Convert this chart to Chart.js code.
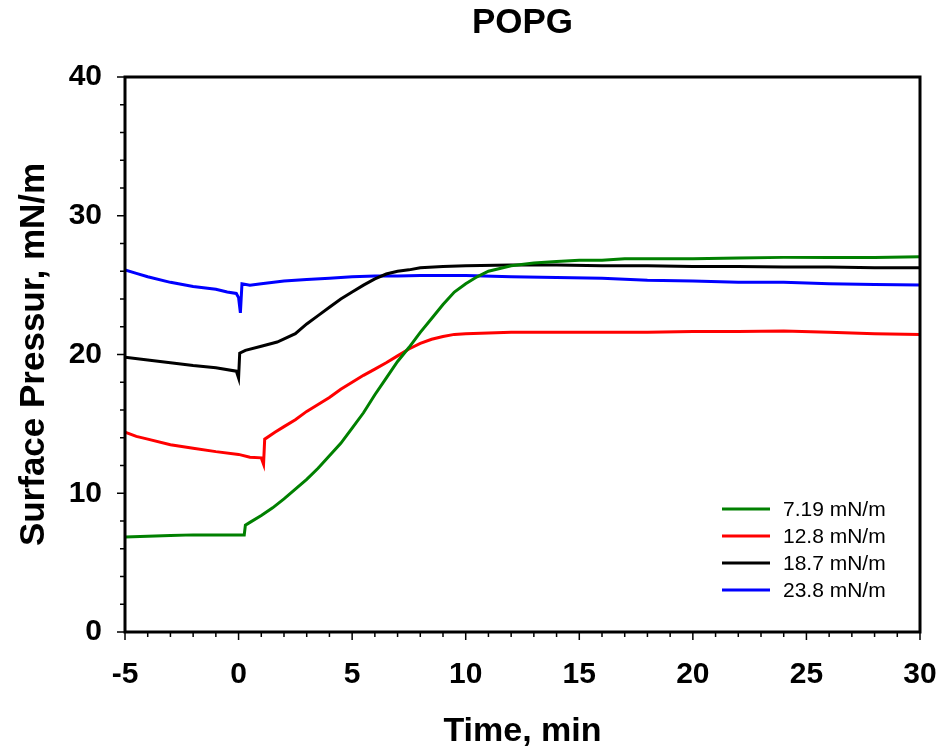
<!DOCTYPE html>
<html>
<head>
<meta charset="utf-8">
<title>POPG</title>
<script src="https://cdn.jsdelivr.net/npm/chart.js@4.4.1/dist/chart.umd.min.js"></script>
<style>
  html, body { margin: 0; padding: 0; background: #fff; }
  #wrap { width: 943px; height: 754px; position: relative; }
</style>
</head>
<body>
<div id="wrap"><canvas id="chart"></canvas></div>
<script>
// --- data (time in min, surface pressure in mN/m) ---
const seriesLabels = ['7.19 mN/m', '12.8 mN/m', '18.7 mN/m', '23.8 mN/m'];
const seriesColors = ['#008000', '#ff0000', '#000000', '#0000ff'];

const greenTime = [-5, -4, -3, -2, -1, 0, 0.25, 0.3, 0.5, 1, 1.5, 2, 2.5, 3, 3.5, 4, 4.5, 5, 5.5, 6, 6.5, 7, 7.5, 8, 8.5, 9, 9.5, 10, 10.5, 11, 11.5, 12, 13, 14, 15, 16, 17, 18, 20, 22, 24, 26, 28, 30];
const greenVal  = [6.85, 6.9, 6.95, 7.0, 7.0, 7.0, 7.0, 7.7, 7.9, 8.4, 8.95, 9.6, 10.3, 11.0, 11.8, 12.7, 13.6, 14.7, 15.8, 17.1, 18.3, 19.5, 20.5, 21.6, 22.6, 23.6, 24.5, 25.1, 25.6, 26.0, 26.2, 26.4, 26.6, 26.7, 26.8, 26.8, 26.9, 26.9, 26.9, 26.95, 27.0, 27.0, 27.0, 27.05];

const redTime = [-5, -4.5, -4, -3, -2, -1, 0, 0.5, 1.0, 1.1, 1.15, 1.6, 2, 2.5, 3, 3.5, 4, 4.5, 5, 5.5, 6, 6.5, 7, 7.5, 8, 8.5, 9, 9.5, 10, 11, 12, 14, 16, 18, 20, 22, 24, 26, 28, 30];
const redVal  = [14.4, 14.1, 13.9, 13.5, 13.25, 13.0, 12.8, 12.6, 12.55, 12.1, 13.9, 14.4, 14.8, 15.3, 15.9, 16.4, 16.9, 17.5, 18.0, 18.5, 18.95, 19.4, 19.9, 20.4, 20.8, 21.1, 21.3, 21.45, 21.5, 21.55, 21.6, 21.6, 21.6, 21.6, 21.65, 21.65, 21.7, 21.6, 21.5, 21.45];

const blackTime = [-5, -4, -3, -2, -1, -0.1, 0, 0.05, 0.3, 1, 1.7, 2.5, 3, 3.5, 4, 4.5, 5, 5.5, 6, 6.5, 7, 7.5, 8, 9, 10, 12, 14, 16, 18, 20, 22, 24, 26, 28, 30];
const blackVal  = [19.8, 19.6, 19.4, 19.2, 19.05, 18.8, 18.3, 20.1, 20.3, 20.6, 20.9, 21.5, 22.2, 22.8, 23.4, 24.0, 24.5, 25.0, 25.45, 25.8, 26.0, 26.1, 26.25, 26.35, 26.4, 26.45, 26.45, 26.4, 26.4, 26.35, 26.35, 26.3, 26.3, 26.25, 26.25];

const blueTime = [-5, -4.5, -4, -3, -2, -1, -0.5, -0.1, 0, 0.08, 0.15, 0.5, 1, 2, 3, 4, 5, 6, 7, 8, 10, 12, 14, 16, 18, 20, 22, 24, 26, 28, 30];
const blueVal  = [26.1, 25.85, 25.6, 25.2, 24.9, 24.7, 24.5, 24.4, 24.1, 23.0, 25.1, 25.0, 25.1, 25.3, 25.4, 25.5, 25.6, 25.65, 25.65, 25.7, 25.7, 25.6, 25.55, 25.5, 25.35, 25.3, 25.2, 25.2, 25.1, 25.05, 25.0];

const xMin = -5, xMax = 30, xStep = 1, xMajor = 5;
const yMin = 0, yMax = 40, yStep = 2, yMajor = 10;

const FONT = "'Liberation Sans', Arial, sans-serif";

const toPoints = (ts, vs) => ts.map((t, i) => ({ x: t, y: vs[i] }));
const allTimes = [greenTime, redTime, blackTime, blueTime];
const allVals = [greenVal, redVal, blackVal, blueVal];

const datasets = seriesLabels.map((label, i) => ({
    label: label,
    data: toPoints(allTimes[i], allVals[i]),
    borderColor: seriesColors[i],
    backgroundColor: seriesColors[i],
    borderWidth: 3,
    pointRadius: 0,
    tension: 0
}));

// frame, tick marks and the little legend in the lower right
const framePlugin = {
    id: 'frame',
    afterDraw(chart) {
        const { ctx, chartArea: a, scales } = chart;
        ctx.save();
        ctx.strokeStyle = '#000';
        ctx.lineWidth = 3;
        ctx.strokeRect(a.left, a.top, a.right - a.left, a.bottom - a.top);

        ctx.lineWidth = 1.5;
        ctx.beginPath();
        scales.x.ticks.forEach(t => {
            const px = scales.x.getPixelForValue(t.value);
            const len = t.value % xMajor === 0 ? 8 : 5;
            ctx.moveTo(px, a.bottom);
            ctx.lineTo(px, a.bottom + len);
        });
        scales.y.ticks.forEach(t => {
            const py = scales.y.getPixelForValue(t.value);
            const len = t.value % yMajor === 0 ? 8 : 5;
            ctx.moveTo(a.left, py);
            ctx.lineTo(a.left - len, py);
        });
        ctx.stroke();

        // legend
        ctx.font = '21px ' + FONT;
        ctx.textBaseline = 'middle';
        ctx.textAlign = 'left';
        chart.data.datasets.forEach((ds, i) => {
            const y = 509 + i * 27;
            ctx.strokeStyle = ds.borderColor;
            ctx.lineWidth = 3;
            ctx.beginPath();
            ctx.moveTo(722, y);
            ctx.lineTo(770, y);
            ctx.stroke();
            ctx.fillStyle = '#000';
            ctx.fillText(ds.label, 783, y + 1);
        });
        ctx.restore();
    }
};

new Chart(document.getElementById('chart'), {
    type: 'line',
    data: { datasets: datasets },
    plugins: [framePlugin],
    options: {
        responsive: true,
        maintainAspectRatio: false,
        animation: false,
        layout: { padding: { left: 0, right: 23, top: 0, bottom: 0 } },
        plugins: {
            legend: { display: false },
            tooltip: { enabled: false },
            title: {
                display: true,
                text: 'POPG',
                fullSize: false,
                color: '#000',
                font: { family: FONT, size: 35, weight: 'bold' },
                padding: { top: 2, bottom: 33 }
            }
        },
        scales: {
            x: {
                type: 'linear',
                min: xMin,
                max: xMax,
                afterFit: s => { s.height = 122; s.paddingLeft = 0; s.paddingRight = 0; },
                border: { display: false },
                grid: { drawOnChartArea: false, tickLength: 8, tickColor: 'rgba(0,0,0,0)' },
                ticks: {
                    stepSize: xStep,
                    autoSkip: false,
                    maxRotation: 0,
                    padding: 17,
                    color: '#000',
                    font: { family: FONT, size: 30, weight: 'bold' },
                    callback: v => (v % xMajor === 0 ? String(v) : '')
                },
                title: {
                    display: true,
                    text: 'Time, min',
                    color: '#000',
                    font: { family: FONT, size: 34, weight: 'bold' },
                    padding: { top: 0, bottom: 2 }
                }
            },
            y: {
                min: yMin,
                max: yMax,
                afterFit: s => { s.width = 125; },
                border: { display: false },
                grid: { drawOnChartArea: false, tickLength: 8, tickColor: 'rgba(0,0,0,0)' },
                ticks: {
                    stepSize: yStep,
                    autoSkip: false,
                    padding: 15,
                    color: '#000',
                    font: { family: FONT, size: 30, weight: 'bold' },
                    callback: v => (v % yMajor === 0 ? String(v) : '')
                },
                title: {
                    display: true,
                    text: 'Surface Pressur, mN/m',
                    color: '#000',
                    font: { family: FONT, size: 35, weight: 'bold' },
                    padding: { top: 13, bottom: 0 }
                }
            }
        }
    }
});
</script>
</body>
</html>
